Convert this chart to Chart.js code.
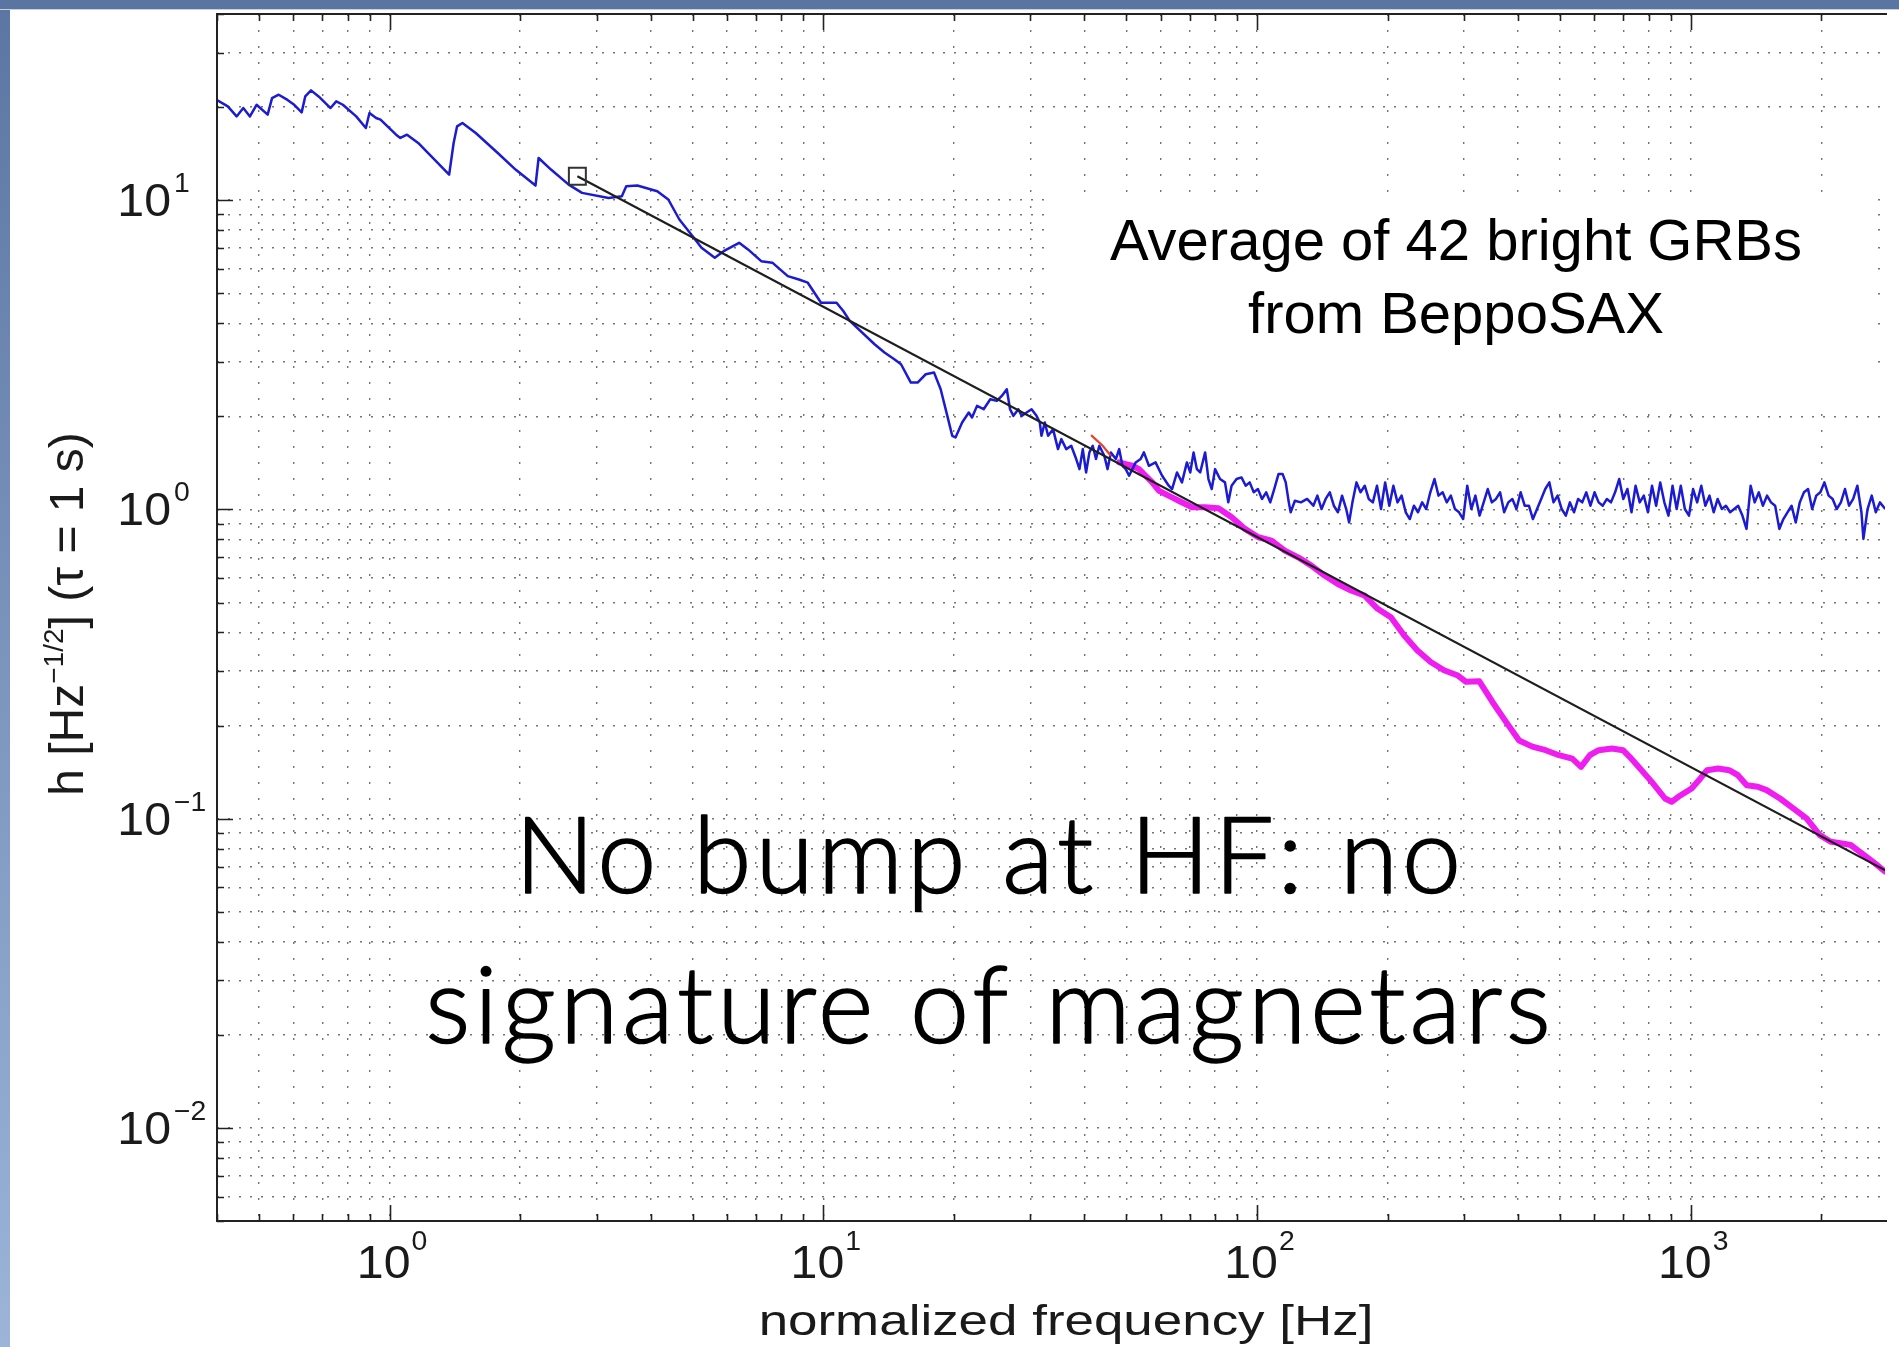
<!DOCTYPE html>
<html>
<head>
<meta charset="utf-8">
<title>Average GRB spectrum</title>
<script src="https://cdn.jsdelivr.net/npm/chart.js@4.4.1/dist/chart.umd.min.js"></script>
<style>
  html, body { margin: 0; padding: 0; background: #fff; overflow: hidden; }
  #stage { position: relative; width: 1899px; height: 1347px; }
  #leftBand { position: absolute; left: 0; top: 0; width: 10px; height: 1347px; background: linear-gradient(#5b76a2, #9bb4d8); }
  #topBand { position: absolute; left: 0; top: 0; width: 1899px; height: 9px; background: #5a75a1; border-bottom: 1px solid #c8d1df; }
  #psd { position: absolute; left: 0; top: 0; }
</style>
</head>
<body>
<div id="stage">
  <div id="leftBand"></div>
  <div id="topBand"></div>
  <canvas id="psd" width="1899" height="1347"></canvas>
</div>
<script>
// averaged spectrum (blue)
const blueFreq = [
  0.399, 0.4236, 0.4439, 0.4599, 0.4764, 0.4935, 0.5234, 0.5358, 0.5550, 0.5816, 0.6027, 0.6270, 0.6390, 0.6589, 0.6861,
  0.7308, 0.7534, 0.7804, 0.8375, 0.8817, 0.8987, 0.9309, 0.9530, 1.035, 1.059, 1.097, 1.164, 1.372, 1.405, 1.431,
  1.472, 1.580, 1.776, 1.952, 2.170, 2.206, 2.356, 2.588, 2.778, 3.198, 3.432, 3.513, 3.726, 4.142, 4.392,
  4.658, 4.998, 5.239, 5.621, 5.892, 6.397, 6.705, 7.194, 7.630, 8.283, 8.787, 9.210, 9.88, 10.73, 11.12, 11.51,
  13.13, 13.84, 14.58, 15.11, 15.92, 16.50, 17.23, 18.01, 18.65, 19.32, 19.83, 20.18, 20.90, 21.65, 22.03,
  22.62, 23.43, 24.27, 25.13, 25.80, 26.49, 26.96, 27.44, 28.17, 28.67, 29.43, 30.22, 31.02, 31.57, 31.85,
  32.42, 32.99, 33.87, 34.77, 35.39, 36.33, 37.30, 38.30, 38.97, 39.66, 40.36, 41.08, 41.81, 42.55, 43.30,
  44.46, 45.24, 46.04, 47.27, 48.11, 48.96, 49.83, 50.71, 52.52, 53.92, 54.87, 56.34, 58.36, 59.39, 60.44,
  62.60, 63.71, 65.41, 67.15, 68.94, 70.17, 71.42, 72.68, 73.97, 75.94, 77.29, 78.66, 80.05, 82.19, 84.38,
  85.87, 87.39, 89.73,
  92.1, 94.2, 96.2, 98.3, 100.5, 102.7, 105.0, 107.3, 109.6, 112.1, 114.6, 116.5, 118.4, 119.6, 122.3,
  126.3, 130.5, 134.9, 137.8, 140.9, 144.0, 147.2, 150.4, 153.7, 157.1, 160.6, 163.1, 166.0, 169.6, 173.3,
  177.2, 181.0, 185.0, 189.1, 193.2, 197.5, 201.9, 206.3, 210.9, 215.5, 220.3, 225.1, 230.1, 235.1, 240.4,
  245.6, 251.0, 256.6, 262.2, 268.0, 273.9, 279.9, 286.1, 292.4, 298.8, 305.4, 312.1, 318.9, 326.0, 333.2,
  340.5, 348.0, 355.7, 363.5, 371.5, 379.7, 388.1, 396.6, 405.5, 414.3, 423.6, 432.8, 442.4, 452.2, 462.1,
  472.3, 482.7, 493.4, 504.2, 515.4, 526.7, 538.3, 550.2, 562.3, 574.6, 587.4, 600.3, 613.5, 627.0, 641.0,
  655.0, 669.5, 684.2, 699.2, 714.7, 730.5, 746.5, 763.0, 779.8, 796.9, 814.5, 832.5, 850.8, 869.6, 888.8,
  908.3, 928.4, 948.9, 969.6, 991.1, 1013, 1035, 1058, 1081, 1105, 1130, 1154, 1180, 1206, 1233,
  1260, 1287, 1316, 1345, 1375, 1405, 1436, 1467, 1500, 1532, 1566, 1601, 1636, 1672, 1709,
  1747, 1785, 1825, 1865, 1906, 1948, 1991, 2034, 2080, 2125, 2172, 2220, 2269, 2319, 2370,
  2423, 2476, 2502, 2558, 2615, 2672, 2731, 2810
];
const blueAmp = [
  21.1, 20.1, 18.66, 19.86, 18.66, 20.35, 18.90, 21.39, 21.93, 21.1, 20.35, 19.23, 21.65, 22.65, 21.65,
  19.86, 20.87, 20.35, 18.66, 17.12, 19.13, 18.44, 18.21, 16.29, 15.89, 16.29, 15.31, 12.10, 15.31, 17.33,
  17.77, 16.49, 14.21, 12.56, 11.15, 13.69, 12.56, 11.23, 10.56, 10.17, 10.30, 11.09, 11.15, 10.69, 10.05,
  8.66, 7.65, 7.02, 6.51, 6.84, 7.28, 6.93, 6.35, 6.28, 5.68, 5.54, 5.41, 4.66, 4.66, 4.38, 4.07,
  3.420, 3.215, 3.059, 2.948, 2.572, 2.572, 2.736, 2.770, 2.447, 2.007, 1.730, 1.709, 1.910, 2.058, 1.983,
  2.162, 2.109, 2.272, 2.244, 2.329, 2.447, 2.109, 2.007, 2.109, 2.007, 2.058, 2.109, 2.007, 1.910, 1.730,
  1.910, 1.730, 1.818, 1.567, 1.688, 1.567, 1.606, 1.455, 1.350, 1.567, 1.317, 1.529, 1.606, 1.455, 1.606,
  1.491, 1.350, 1.529, 1.455, 1.567, 1.384, 1.350, 1.285, 1.419, 1.455, 1.529, 1.384, 1.419, 1.350, 1.285,
  1.193, 1.164, 1.317, 1.223, 1.419, 1.317, 1.529, 1.350, 1.317, 1.529, 1.254, 1.164, 1.350, 1.254, 1.223,
  1.054, 1.193, 1.254,
  1.269, 1.193, 1.223, 1.136, 1.164, 1.081, 1.136, 1.054, 1.164, 1.301, 1.301, 1.223, 1.054, 0.979, 1.067,
  1.054, 1.081, 1.028, 1.108, 1.003, 1.081, 1.136, 1.028, 0.979, 1.108, 1.003, 0.908, 1.054, 1.223, 1.136,
  1.193, 1.081, 1.054, 1.193, 1.003, 1.223, 1.028, 1.193, 1.054, 1.108, 0.979, 0.931, 1.028, 0.979, 1.054,
  1.003, 1.136, 1.254, 1.108, 1.136, 1.054, 1.108, 1.003, 0.979, 0.931, 1.193, 1.003, 1.108, 0.955, 1.054,
  1.164, 1.054, 1.081, 1.136, 0.979, 1.054, 1.081, 1.003, 1.136, 1.028, 1.028, 0.931, 1.003, 1.081, 1.164,
  1.223, 1.054, 1.108, 1.003, 0.955, 1.054, 0.979, 1.081, 1.054, 1.136, 1.028, 1.136, 1.054, 1.028, 1.081,
  1.054, 1.136, 1.254, 1.081, 1.164, 0.979, 1.193, 1.054, 1.108, 0.979, 1.193, 1.028, 1.223, 1.054, 0.955,
  1.193, 1.003, 1.193, 1.003, 0.955, 1.164, 1.054, 1.193, 1.028, 1.108, 0.979, 1.081, 1.003, 1.028, 0.979,
  1.003, 1.028, 0.955, 0.865, 1.193, 1.054, 1.136, 1.028, 1.108, 1.054, 1.028, 0.865, 0.931, 0.979, 1.028,
  0.908, 1.054, 1.136, 1.164, 1.003, 1.108, 1.136, 1.223, 1.108, 1.081, 1.003, 1.054, 1.164, 1.028, 1.081,
  1.193, 0.979, 0.803, 1.003, 1.108, 0.979, 1.054, 1.003
];

// smoothed spectrum (magenta)
const magentaFreq = [
  48.11, 49.83, 51.61, 53.46, 55.36, 57.35, 59.39, 61.52, 63.71, 66.00, 68.36, 70.80, 75.95, 81.49, 87.47,
  93.83, 100.7, 108.0, 115.9, 124.4, 133.5, 143.2, 153.6, 164.8, 176.9, 189.8, 203.6, 218.5, 234.4, 251.5,
  269.9, 289.6, 303.5, 325.6, 349.4, 374.8, 402.2, 431.5, 463.0, 496.8, 533.2, 558.7, 585.5, 613.7, 658.5,
  698.2, 723.2, 758.0, 813.4, 872.7, 903.9, 936.3, 1005, 1053, 1091, 1157, 1227, 1285, 1347, 1428,
  1497, 1607, 1724, 1850, 1985, 2104, 2232, 2339, 2451, 2630, 2809
];
const magentaAmp = [
  1.419, 1.401, 1.384, 1.350, 1.285, 1.223, 1.150, 1.121, 1.094, 1.067, 1.041, 1.016, 1.016, 1.008, 0.943,
  0.865, 0.813, 0.793, 0.736, 0.700, 0.658, 0.611, 0.574, 0.547, 0.527, 0.477, 0.448, 0.391, 0.350, 0.321,
  0.302, 0.291, 0.277, 0.278, 0.238, 0.206, 0.179, 0.171, 0.1665, 0.1604, 0.1564, 0.1471, 0.1604, 0.1665, 0.1685,
  0.1665, 0.1585, 0.1471, 0.1315, 0.1162, 0.1134, 0.1177, 0.1252, 0.1349, 0.1435, 0.1452, 0.1435, 0.1382, 0.1283, 0.1268,
  0.1237, 0.1162, 0.1079, 0.1002, 0.0885, 0.0842, 0.0832, 0.0822, 0.0782, 0.0726, 0.0674
];

// power-law fit (black) and its starting marker
const fitFreq = [2.71, 2810];
const fitAmp = [11.95, 0.0681];
const markerFreq = [2.71];
const markerAmp = [11.95];

// short red segment
const redFreq = [41.45, 44.08, 46.04];
const redAmp = [1.739, 1.606, 1.491];

// decade labels
const xTickPowers = [0, 1, 2, 3];
const yTickPowers = [1, 0, -1, -2];

const SANS = '"Liberation Sans", Arial, Helvetica, sans-serif';
const INK = '#1a1a1a';

const toPoints = (xs, ys) => xs.map((f, i) => ({ x: f, y: ys[i] }));

// 1..9 x 10^n ticks so the dotted grid has every minor line
function decadeTicks(scale) {
  const ticks = [];
  for (let e = -3; e <= 4; e++) {
    for (let m = 1; m <= 9; m++) {
      const v = m * Math.pow(10, e);
      if (v >= scale.min * 0.9999 && v <= scale.max * 1.0001) ticks.push({ value: v });
    }
  }
  scale.ticks = ticks;
}

const isDecade = v => Math.abs(Math.log10(v) - Math.round(Math.log10(v))) < 1e-6;
const expText = p => (p < 0 ? '\u2212' + (-p) : String(p));

function stretchedText(ctx, text, x, y, font, sx) {
  ctx.save();
  ctx.font = font;
  ctx.translate(x, y);
  ctx.scale(sx, 1);
  ctx.fillText(text, 0, 0);
  ctx.restore();
}

function textWidth(ctx, text, font, sx) {
  ctx.save();
  ctx.font = font;
  const w = ctx.measureText(text).width * sx;
  ctx.restore();
  return w;
}

const axesDecor = {
  id: 'axesDecor',
  beforeDatasetsDraw(chart) {
    // white box behind the legend text
    const ctx = chart.ctx;
    ctx.save();
    ctx.fillStyle = '#fff';
    ctx.fillRect(1046, 192, 826, 213);
    ctx.restore();
  },
  afterDatasetsDraw(chart) {
    const { ctx, chartArea: a, scales: { x, y } } = chart;
    ctx.save();
    ctx.strokeStyle = '#222';
    ctx.lineWidth = 2;
    ctx.beginPath();
    ctx.moveTo(a.right + 2, a.top);
    ctx.lineTo(a.left, a.top);
    ctx.lineTo(a.left, a.bottom);
    ctx.lineTo(a.right + 2, a.bottom);
    ctx.stroke();

    // inward ticks
    ctx.lineWidth = 1.6;
    ctx.beginPath();
    x.ticks.forEach(t => {
      const px = Math.round(x.getPixelForValue(t.value)) + 0.5;
      const len = isDecade(t.value) ? 16 : 7;
      ctx.moveTo(px, a.bottom);
      ctx.lineTo(px, a.bottom - len);
      ctx.moveTo(px, a.top);
      ctx.lineTo(px, a.top + len);
    });
    y.ticks.forEach(t => {
      const py = Math.round(y.getPixelForValue(t.value)) + 0.5;
      const len = isDecade(t.value) ? 16 : 7;
      ctx.moveTo(a.left, py);
      ctx.lineTo(a.left + len, py);
    });
    ctx.stroke();
    ctx.restore();
  },
  afterDraw(chart) {
    const { ctx, chartArea: a, scales: { x, y } } = chart;
    const baseFont = '46px ' + SANS;
    const supFont = '27px ' + SANS;
    const sx = 1.05;
    ctx.save();
    ctx.fillStyle = INK;
    ctx.textBaseline = 'alphabetic';
    ctx.textAlign = 'left';

    // x decade labels
    xTickPowers.forEach(p => {
      const px = x.getPixelForValue(Math.pow(10, p));
      const sup = expText(p);
      const w1 = textWidth(ctx, '10', baseFont, sx);
      const w2 = textWidth(ctx, sup, supFont, sx);
      const start = px - (w1 + w2) / 2 + 2;
      stretchedText(ctx, '10', start, a.bottom + 57, baseFont, sx);
      stretchedText(ctx, sup, start + w1 + 1, a.bottom + 29, supFont, sx);
    });

    // y decade labels
    yTickPowers.forEach(p => {
      const py = y.getPixelForValue(Math.pow(10, p));
      const w1 = textWidth(ctx, '10', baseFont, sx);
      stretchedText(ctx, '10', 171 - w1, py + 16, baseFont, sx);
      stretchedText(ctx, expText(p), 174, py - 8, supFont, sx);
    });

    // x title
    const xTitle = 'normalized frequency [Hz]';
    const xFont = '42px ' + SANS;
    const xsx = 1.26;
    const xw = textWidth(ctx, xTitle, xFont, xsx);
    stretchedText(ctx, xTitle, 1066 - xw / 2, 1335, xFont, xsx);

    // y title, rotated, with the Hz exponent raised
    const yBase = '48px ' + SANS;
    const ySup = '28px ' + SANS;
    const parts = [['h [Hz', yBase, 0], ['\u22121/2', ySup, -20], ['] (\u03c4 = 1 s)', yBase, 0]];
    ctx.save();
    ctx.translate(83, 614);
    ctx.rotate(-Math.PI / 2);
    let total = 0;
    parts.forEach(pt => { ctx.font = pt[1]; total += ctx.measureText(pt[0]).width; });
    let cx = -total / 2;
    parts.forEach(pt => {
      ctx.font = pt[1];
      ctx.fillText(pt[0], cx, pt[2]);
      cx += ctx.measureText(pt[0]).width;
    });
    ctx.restore();

    // legend text in the white box
    ctx.textAlign = 'center';
    ctx.fillStyle = '#000';
    ctx.font = '58px ' + SANS;
    ctx.fillText('Average of 42 bright GRBs', 1456, 260);
    ctx.fillText('from BeppoSAX', 1456, 333);

    // remark, light face thickened a little with a thin outline
    ctx.font = '300 106px Lato, "Open Sans", sans-serif';
    ctx.letterSpacing = '4px';
    ctx.strokeStyle = '#000';
    ctx.lineWidth = 1.6;
    ctx.lineJoin = 'round';
    [['No bump at HF: no', 893], ['signature of magnetars', 1043]].forEach(([line, base]) => {
      ctx.fillText(line, 990, base);
      ctx.strokeText(line, 990, base);
    });
    ctx.letterSpacing = '0px';
    ctx.restore();
  }
};

const gridStyle = { color: 'rgba(70,70,70,0.75)', lineWidth: 1.4, drawTicks: false };

new Chart(document.getElementById('psd'), {
  type: 'line',
  data: {
    datasets: [
      {
        label: 'fit start',
        data: toPoints(markerFreq, markerAmp),
        showLine: false,
        pointStyle: 'rect',
        pointRadius: 12,
        pointBorderWidth: 2,
        pointBorderColor: '#333',
        pointBackgroundColor: 'rgba(255,255,255,0)',
        order: 0
      },
      {
        label: 'transition',
        data: toPoints(redFreq, redAmp),
        borderColor: '#e2432c',
        borderWidth: 2.2,
        pointRadius: 0,
        order: 1
      },
      {
        label: 'power-law fit',
        data: toPoints(fitFreq, fitAmp),
        borderColor: '#1e1e1e',
        borderWidth: 2.2,
        pointRadius: 0,
        order: 2
      },
      {
        label: 'average of 42 GRBs',
        data: toPoints(blueFreq, blueAmp),
        borderColor: '#1b1bd2',
        borderWidth: 2.5,
        pointRadius: 0,
        borderJoinStyle: 'round',
        order: 3
      },
      {
        label: 'smoothed',
        data: toPoints(magentaFreq, magentaAmp),
        borderColor: '#f01df0',
        borderWidth: 6,
        pointRadius: 0,
        borderJoinStyle: 'round',
        borderCapStyle: 'round',
        order: 4
      }
    ]
  },
  options: {
    responsive: false,
    animation: false,
    events: [],
    layout: { padding: { top: 12, right: 0, bottom: 0, left: 0 } },
    plugins: { legend: { display: false }, tooltip: { enabled: false } },
    elements: { line: { tension: 0, fill: false } },
    scales: {
      x: {
        type: 'logarithmic',
        min: 0.4,
        max: 2806,
        afterBuildTicks: decadeTicks,
        afterFit: s => { s.height = 126; },
        ticks: { display: false, autoSkip: false },
        grid: gridStyle,
        border: { display: false, dash: [2, 14] }
      },
      y: {
        type: 'logarithmic',
        min: 0.005,
        max: 40,
        afterBuildTicks: decadeTicks,
        afterFit: s => { s.width = 217; },
        ticks: { display: false, autoSkip: false },
        grid: gridStyle,
        border: { display: false, dash: [2, 9] }
      }
    }
  },
  plugins: [axesDecor]
});
</script>
</body>
</html>
